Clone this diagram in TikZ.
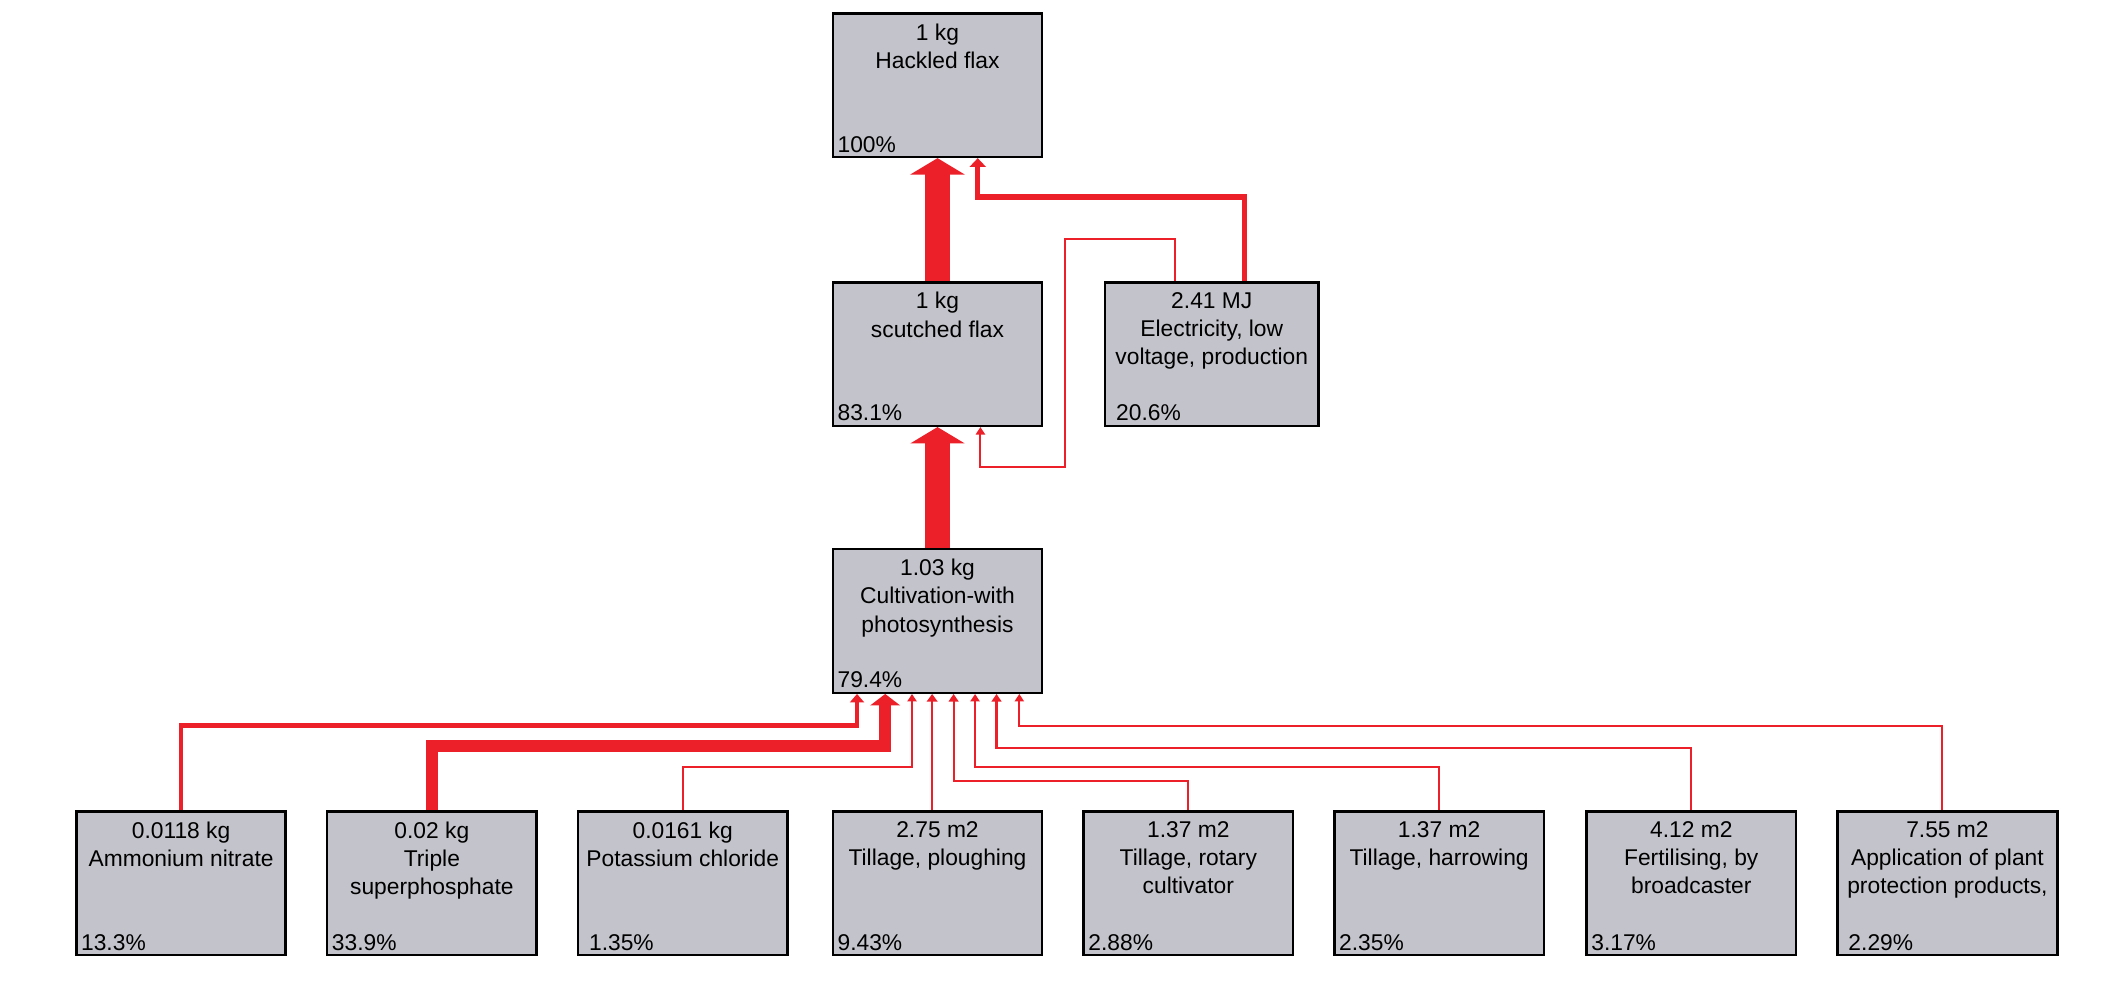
\documentclass[tikz,border=0pt]{standalone}
\usepackage{fontspec}
\setmainfont{Liberation Sans}
\usetikzlibrary{arrows.meta}
\definecolor{flowred}{HTML}{EC2029}
\definecolor{boxgrey}{HTML}{C3C4CB}

\tikzset{
  proc/.style={draw=black,line width=0.9pt,fill=boxgrey,minimum width=78pt,
    minimum height=53.5pt,inner sep=0pt},
  pct/.style={anchor=south west,inner sep=2pt,font=\fontsize{8.5}{10.5}\selectfont},
  flow/.style={draw=flowred,line width=#1,-{Triangle[width=#1*2+2pt,length=2.5pt+#1*0.4]}},
}

\begin{document}
\begin{tikzpicture}[x=0.5pt,y=-0.5pt]
\useasboundingbox (0,0) rectangle (1568,735);

\node[proc] (hackled) at (699,63.5) {};
\node[proc] (scutched) at (699,264) {};
\node[proc,minimum width=79.5pt] (elec) at (903.5,264) {};
\node[proc] (cult) at (699,463) {};
\node[proc] (amm) at (135,658.5) {};
\node[proc] (triple) at (322,658.5) {};
\node[proc] (potas) at (509,658.5) {};
\node[proc] (plough) at (699,658.5) {};
\node[proc] (rotary) at (886,658.5) {};
\node[proc] (harrow) at (1073,658.5) {};
\node[proc] (fert) at (1261,658.5) {};
\node[proc,minimum width=82pt] (appl) at (1452,658.5) {};

% titles and shares
\foreach \n/\t/\p in {hackled/{1 kg\\Hackled flax}/100\%,
    scutched/{1 kg\\scutched flax}/83.1\%,
    elec/{2.41 MJ\\Electricity, low\\voltage, production}/~20.6\%,
    cult/{1.03 kg\\Cultivation-with\\photosynthesis}/79.4\%,
    amm/{0.0118 kg\\Ammonium nitrate}/13.3\%,
    triple/{0.02 kg\\Triple\\superphosphate}/33.9\%,
    potas/{0.0161 kg\\Potassium chloride}/~1.35\%,
    plough/{2.75 m2\\Tillage, ploughing}/9.43\%,
    rotary/{1.37 m2\\Tillage, rotary\\cultivator}/2.88\%,
    harrow/{1.37 m2\\Tillage, harrowing}/2.35\%,
    fert/{4.12 m2\\Fertilising, by\\broadcaster}/3.17\%,
    appl/{7.55 m2\\Application of plant\\protection products,}/~2.29\%}{
  \node[anchor=north,align=center,inner sep=0pt,font=\fontsize{8.5}{10.5}\selectfont]
    (\n-t) at ([yshift=-4pt]\n.north) {\t};
  \node[pct] (\n-p) at (\n.south west) {\p};
}

% flows
\draw[flow=9pt] (scutched.north) -- (hackled.south);
\draw[flow=9pt] (cult.north) -- (scutched.south);
\draw[flow=2pt] (elec.north -| 928,0) |- (729,147) -- (hackled.south -| 729,0);
\draw[flow=0.7pt] (elec.north -| 876,0) |- (794,178) |- (731,348) -- (scutched.south -| 731,0);
\draw[flow=1.6pt] (amm.north) |- (639,541) -- (cult.south -| 639,0);
\draw[flow=4.5pt] (triple.north) |- (660,556) -- (cult.south -| 660,0);
\draw[flow=0.7pt] (potas.north) |- (680,572) -- (cult.south -| 680,0);
\draw[flow=1pt] (plough.north -| 695,0) -- (cult.south -| 695,0);
\draw[flow=0.8pt] (rotary.north) |- (711,582) -- (cult.south -| 711,0);
\draw[flow=0.7pt] (harrow.north) |- (727,572) -- (cult.south -| 727,0);
\draw[flow=0.8pt] (fert.north) |- (743,558) -- (cult.south -| 743,0);
\draw[flow=0.7pt] (appl.north -| 1448,0) |- (760,541) -- (cult.south -| 760,0);
\end{tikzpicture}
\end{document}
